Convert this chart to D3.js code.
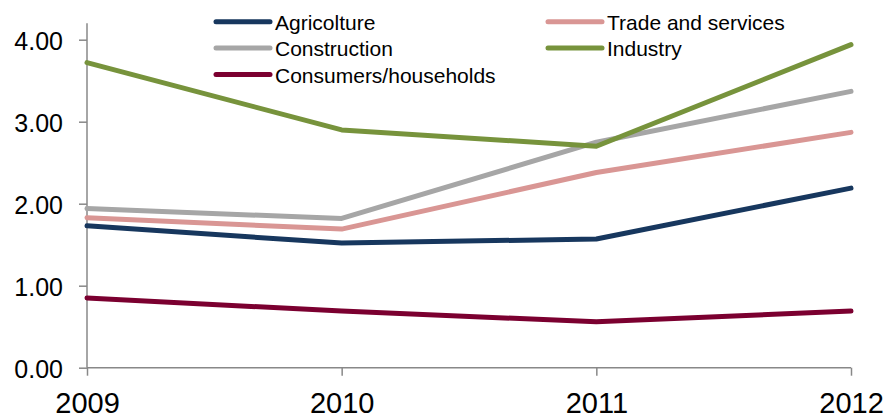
<!DOCTYPE html>
<html>
<head>
<meta charset="utf-8">
<script src="https://cdn.jsdelivr.net/npm/d3@7/dist/d3.min.js"></script>
<style>
  html, body { margin: 0; padding: 0; background: #fff; }
  svg { display: block; font-family: Arial, "Liberation Sans", sans-serif; }
</style>
</head>
<body>
<svg id="chart" width="887" height="418"></svg>
<script>
// Years on the x axis
const years = ["2009", "2010", "2011", "2012"];

// Series values by year
const agricolture = [1.73, 1.52, 1.57, 2.19];
const tradeServices = [1.83, 1.69, 2.38, 2.87];
const construction = [1.94, 1.82, 2.75, 3.37];
const industry = [3.72, 2.90, 2.70, 3.94];
const consumers = [0.85, 0.69, 0.56, 0.69];

// Y axis tick values
const yTicks = [0, 1, 2, 3, 4];

const series = [
  { name: "Agricolture", values: agricolture, color: "#17375E" },
  { name: "Trade and services", values: tradeServices, color: "#D99694" },
  { name: "Construction", values: construction, color: "#A6A6A6" },
  { name: "Industry", values: industry, color: "#77933C" },
  { name: "Consumers/households", values: consumers, color: "#7B0030" }
];

const svg = d3.select("#chart");
const plotLeft = 87, plotRight = 851, plotTop = 23.3, plotBottom = 367.7;

const x = d3.scalePoint().domain(years).range([plotLeft, plotRight]);
const y = d3.scaleLinear().domain([0, 4.2]).range([plotBottom, plotTop]);

const axisColor = "#888888";

// Y axis
const yAxis = svg.append("g")
  .attr("transform", `translate(${plotLeft},0)`)
  .call(d3.axisLeft(y).tickValues(yTicks).tickFormat(d3.format(".2f")).tickSize(8).tickPadding(16));
yAxis.select(".domain").attr("stroke", axisColor).attr("stroke-width", 1.5)
  .attr("d", `M0,${plotTop}V${plotBottom}`);
yAxis.selectAll(".tick line").attr("stroke", axisColor).attr("stroke-width", 1.5);
yAxis.selectAll(".tick text").attr("fill", "#000").attr("font-size", 25)
  .attr("font-family", "Arial, 'Liberation Sans', sans-serif").attr("dy", "0.4em");

// X axis
const xAxis = svg.append("g")
  .attr("transform", `translate(0,${plotBottom})`)
  .call(d3.axisBottom(x).tickSize(8).tickPadding(17));
xAxis.select(".domain").attr("stroke", axisColor).attr("stroke-width", 1.5)
  .attr("d", `M${plotLeft},0H${plotRight}`);
xAxis.selectAll(".tick line").attr("stroke", axisColor).attr("stroke-width", 1.5);
xAxis.selectAll(".tick text").attr("fill", "#000").attr("font-size", 29)
  .attr("font-family", "Arial, 'Liberation Sans', sans-serif").attr("dy", "0.71em");

// Lines
const line = d3.line().x((d, i) => x(years[i])).y(d => y(d));
svg.append("g").selectAll("path")
  .data(series)
  .join("path")
  .attr("d", d => line(d.values))
  .attr("fill", "none")
  .attr("stroke", d => d.color)
  .attr("stroke-width", 5)
  .attr("stroke-linecap", "round")
  .attr("stroke-linejoin", "round");

// Legend: two columns, filled down the first column
const legendOrder = [
  { s: series[0], col: 0, row: 0 },
  { s: series[2], col: 0, row: 1 },
  { s: series[4], col: 0, row: 2 },
  { s: series[1], col: 1, row: 0 },
  { s: series[3], col: 1, row: 1 }
];
const colX = [216, 548];
const rowY = [21.7, 48, 74.5];
const legend = svg.append("g");
const items = legend.selectAll("g").data(legendOrder).join("g")
  .attr("transform", d => `translate(${colX[d.col]},${rowY[d.row]})`);
items.append("line")
  .attr("x1", 0).attr("x2", 54).attr("y1", 0).attr("y2", 0)
  .attr("stroke", d => d.s.color).attr("stroke-width", 5).attr("stroke-linecap", "round");
items.append("text")
  .attr("x", 59).attr("y", 8.3)
  .attr("font-size", 21)
  .attr("fill", "#000")
  .text(d => d.s.name);
</script>
</body>
</html>
